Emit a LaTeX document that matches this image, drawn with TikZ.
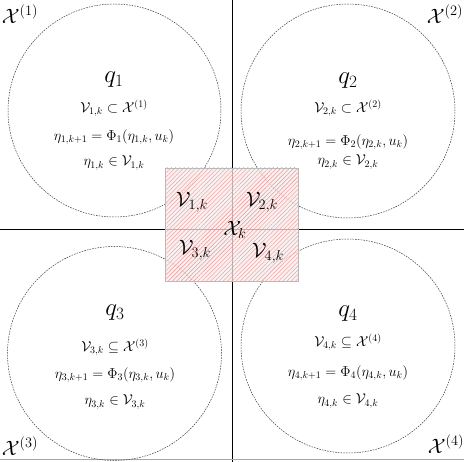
\documentclass[tikz,border=0pt]{standalone}
\usetikzlibrary{patterns.meta, positioning}
\definecolor{hatchcolor}{RGB}{228,150,150}
\definecolor{hatchfill}{RGB}{251,234,234}
\definecolor{edgecolor}{RGB}{60,60,60}

\begin{document}
\begin{tikzpicture}[
    x=1pt, y=-1pt,
    region/.style={draw=edgecolor, line width=0.5pt, dash pattern=on 1.6pt off 1.1pt, circle, inner sep=0pt},
    modename/.style={font=\fontsize{24}{28}\selectfont},
    eqline/.style={font=\fontsize{14}{17}\selectfont, inner sep=1pt},
    setname/.style={font=\fontsize{20}{24}\selectfont, inner sep=1pt},
    axis/.style={draw=black, line width=0.8pt}
]
    \useasboundingbox (0,0) rectangle (464,462);

    % Axes and bottom rule
    \draw[axis] (232,0) -- (232,462);
    \draw[axis] (0,229) -- (464,229);
    \draw[draw=gray!70, line width=1pt] (0,460) -- (464,460);

    % Mode regions
    \node[region, minimum size=213pt] (c1) at (114.5,110.5) {};
    \node[region, minimum size=214pt] (c2) at (348,111) {};
    \node[region, minimum size=214pt] (c3) at (114.5,353.5) {};
    \node[region, minimum size=214pt] (c4) at (348,346) {};

    % Overlap box
    \fill[hatchfill, fill opacity=0.75] (165,168) rectangle (298,281);
    \fill[pattern={Lines[angle=45, distance=3pt, line width=0.4pt]}, pattern color=hatchcolor] (165,168) rectangle (298,281);
    \draw[gray!55, line width=0.8pt] (165,168) rectangle (298,281);

    % Quadrant labels
    \node[setname] (x1) at (20,14) {$\mathcal{X}^{(1)}$};
    \node[setname] (x2) at (445,14) {$\mathcal{X}^{(2)}$};
    \node[setname] (x3) at (20,446) {$\mathcal{X}^{(3)}$};
    \node[setname] (x4) at (446,444) {$\mathcal{X}^{(4)}$};

    % Mode 1
    \node[modename] (q1) at (114,80) {$q_1$};
    \node[eqline] (s1) at (114,108) {$\mathcal{V}_{1,k}\subset\mathcal{X}^{(1)}$};
    \node[eqline] (f1) at (114,137) {$\eta_{1,k+1}=\Phi_1(\eta_{1,k},u_k)$};
    \node[eqline] (m1) at (114,163) {$\eta_{1,k}\in\mathcal{V}_{1,k}$};

    % Mode 2
    \node[modename] (q2) at (348,81) {$q_2$};
    \node[eqline] (s2) at (348,108) {$\mathcal{V}_{2,k}\subset\mathcal{X}^{(2)}$};
    \node[eqline] (f2) at (348,142) {$\eta_{2,k+1}=\Phi_2(\eta_{2,k},u_k)$};
    \node[eqline] (m2) at (348,162) {$\eta_{2,k}\in\mathcal{V}_{2,k}$};

    % Mode 3
    \node[modename] (q3) at (115,313) {$q_3$};
    \node[eqline] (s3) at (115,347) {$\mathcal{V}_{3,k}\subseteq\mathcal{X}^{(3)}$};
    \node[eqline] (f3) at (115,375) {$\eta_{3,k+1}=\Phi_3(\eta_{3,k},u_k)$};
    \node[eqline] (m3) at (115,402) {$\eta_{3,k}\in\mathcal{V}_{3,k}$};

    % Mode 4
    \node[modename] (q4) at (348,314) {$q_4$};
    \node[eqline] (s4) at (348,342) {$\mathcal{V}_{4,k}\subseteq\mathcal{X}^{(4)}$};
    \node[eqline] (f4) at (348,373) {$\eta_{4,k+1}=\Phi_4(\eta_{4,k},u_k)$};
    \node[eqline] (m4) at (348,401) {$\eta_{4,k}\in\mathcal{V}_{4,k}$};

    % Labels in the overlap
    \node[setname] (v1) at (192,202) {$\mathcal{V}_{1,k}$};
    \node[setname] (v2) at (262,202) {$\mathcal{V}_{2,k}$};
    \node[setname] (xk) at (235,230) {$\mathcal{X}_k$};
    \node[setname] (v3) at (195,250) {$\mathcal{V}_{3,k}$};
    \node[setname] (v4) at (268,253) {$\mathcal{V}_{4,k}$};
\end{tikzpicture}
\end{document}
